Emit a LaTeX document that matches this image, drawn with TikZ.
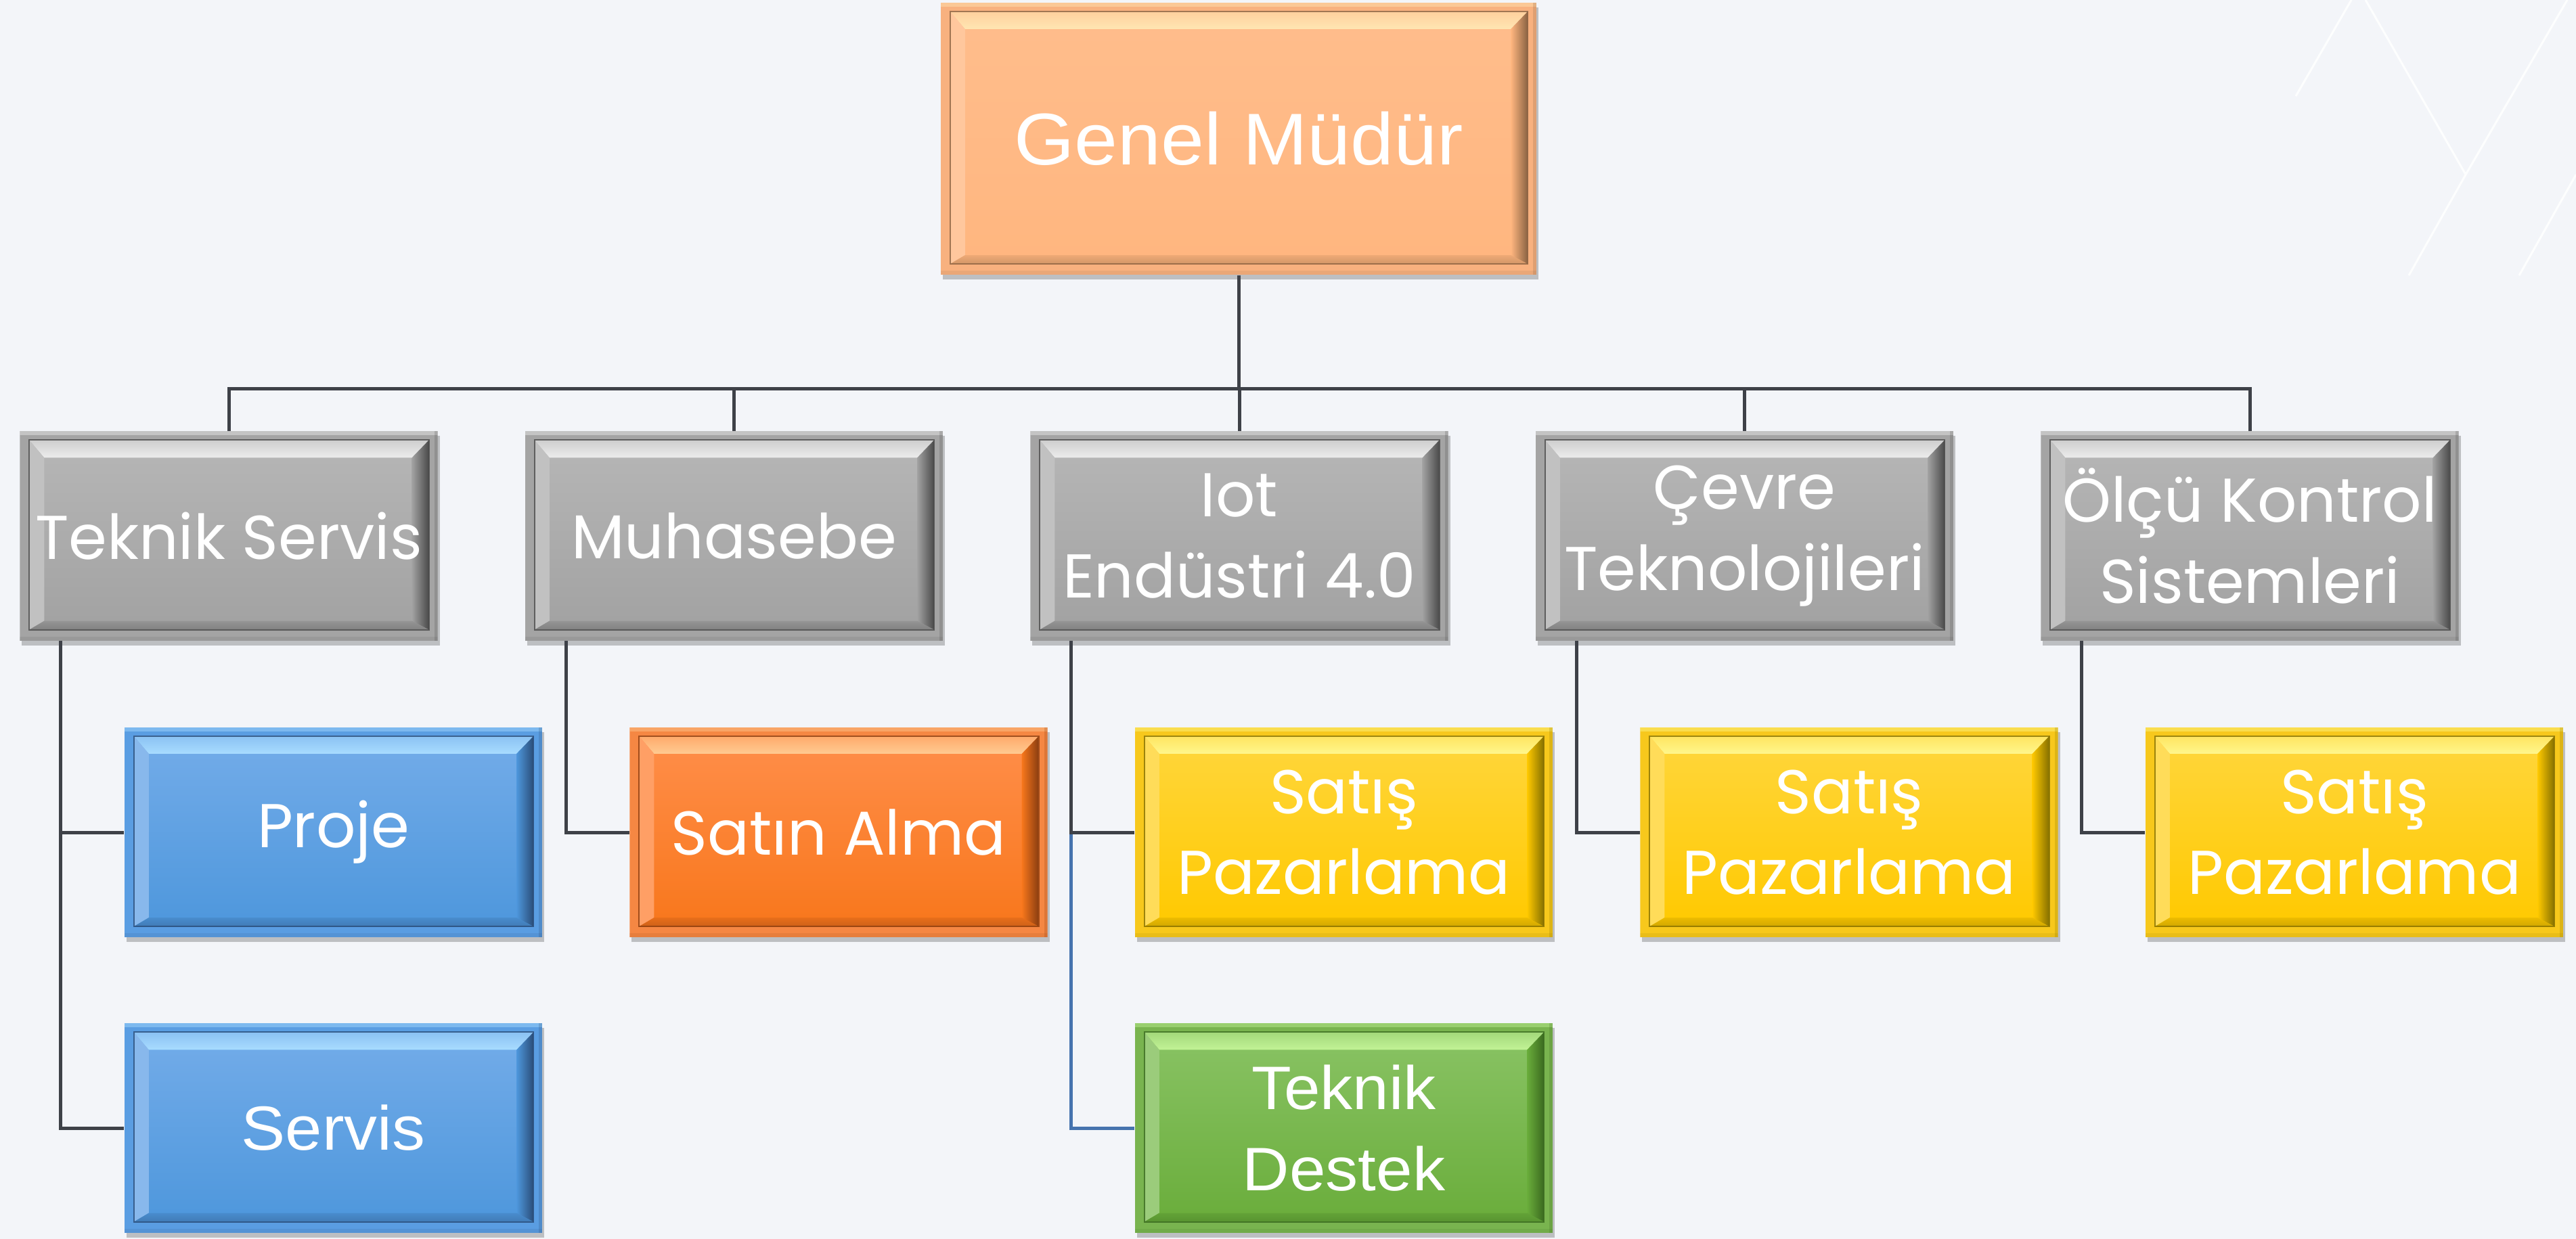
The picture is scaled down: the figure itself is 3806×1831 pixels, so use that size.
\documentclass[tikz,border=0pt]{standalone}
\usepackage{fontspec}
\usetikzlibrary{shadows}
\newfontfamily\poppins{Poppins}
\newfontfamily\arialf{Liberation Sans}[FakeStretch=1.06]

\definecolor{bgcol}{HTML}{F3F5F9}
\definecolor{conncol}{HTML}{3E4148}
\definecolor{connblue}{HTML}{4673AE}
% gray
\definecolor{graytop}{HTML}{B6B6B6}\definecolor{graybot}{HTML}{A2A2A2}
\definecolor{grayframe}{HTML}{A4A4A4}\definecolor{graylight}{HTML}{ECECEC}\definecolor{graydark}{HTML}{4A4A4A}
% peach
\definecolor{peachtop}{HTML}{FFBD8C}\definecolor{peachbot}{HTML}{FFB67F}
\definecolor{peachframe}{HTML}{F8B17F}\definecolor{peachlight}{HTML}{FFE6B2}\definecolor{peachdark}{HTML}{8A6242}
% blue
\definecolor{bluetop}{HTML}{73ACE9}\definecolor{bluebot}{HTML}{4E97DC}
\definecolor{blueframe}{HTML}{5A9DE2}\definecolor{bluelight}{HTML}{A8DCFF}\definecolor{bluedark}{HTML}{2A4C78}
% orange
\definecolor{orangetop}{HTML}{FF8E4A}\definecolor{orangebot}{HTML}{F8771C}
\definecolor{orangeframe}{HTML}{F58743}\definecolor{orangelight}{HTML}{FFCB92}\definecolor{orangedark}{HTML}{8A3D10}
% yellow
\definecolor{yellowtop}{HTML}{FFD63C}\definecolor{yellowbot}{HTML}{FFC900}
\definecolor{yellowframe}{HTML}{F7C81C}\definecolor{yellowlight}{HTML}{FFF78C}\definecolor{yellowdark}{HTML}{857000}
% green
\definecolor{greentop}{HTML}{89C364}\definecolor{greenbot}{HTML}{6AAD3B}
\definecolor{greenframe}{HTML}{79B44F}\definecolor{greenlight}{HTML}{C2F296}\definecolor{greendark}{HTML}{3A6A1F}

\newcommand\bevpic[1]{%
  \path (path picture bounding box.north west) coordinate (pNW)
        (path picture bounding box.south east) coordinate (pSE);
  \fill[#1frame] (pNW) rectangle (pSE);
  \fill[#1light, opacity=.45] (pNW) rectangle ([yshift=-0.06cm]pSE |- pNW);
  \fill[#1dark, opacity=.22] ([xshift=-0.05cm]pSE |- pNW) rectangle (pSE);
  \fill[#1dark, opacity=.12] ([yshift=0.06cm]pNW |- pSE) rectangle (pSE);
  \coordinate (iNW) at ([shift={(0.14cm,-0.13cm)}]pNW);
  \coordinate (iSE) at ([shift={(-0.13cm,0.16cm)}]pSE);
  \coordinate (iNE) at (iSE |- iNW);
  \coordinate (iSW) at (iNW |- iSE);
  \coordinate (fNW) at ([shift={(0.22cm,-0.26cm)}]iNW);
  \coordinate (fSE) at ([shift={(-0.25cm,0.13cm)}]iSE);
  \coordinate (fNE) at (fSE |- fNW);
  \coordinate (fSW) at (fNW |- fSE);
  \shade[top color=#1top, bottom color=#1bot] (iNW) rectangle (iSE);
  \shade[top color=#1light!45!#1top, bottom color=#1light] (iNW) -- (iNE) -- (fNE) -- (fNW) -- cycle;
  \fill[#1top!85!white] (iNW) -- (fNW) -- (fSW) -- (iSW) -- cycle;
  \shade[left color=#1bot, right color=#1dark] (iNE) -- (fNE) -- (fSE) -- (iSE) -- cycle;
  \shade[top color=#1bot!85!#1dark, bottom color=#1bot!62!#1dark] (iSW) -- (fSW) -- (fSE) -- (iSE) -- cycle;
  \draw[#1dark, line width=0.6pt, opacity=.8] (iNW) rectangle (iSE);
}

\tikzset{
  box/.style={rectangle, minimum width=6.17cm, minimum height=3.09cm, inner sep=0pt,
    text=white, align=center, font=\poppins\fontsize{26}{34}\selectfont,
    drop shadow={shadow xshift=0.03cm, shadow yshift=-0.07cm, opacity=0.22, fill=black},
    path picture={\bevpic{#1}}},
  arialtxt/.style={font=\arialf\fontsize{25.8}{34}\selectfont},
  conn/.style={draw=conncol, line width=0.05cm},
  connb/.style={draw=connblue, line width=0.05cm},
  deco/.style={draw=white, line width=0.03cm, opacity=0.9}
}

\begin{document}
\begin{tikzpicture}[x=0.01cm, y=-0.01cm]
\useasboundingbox (0,0) rectangle (3806,1831);
\fill[bgcol] (0,0) rectangle (3806,1831);

% background decoration
\draw[deco] (3392,142) -- (3474,0);
\draw[deco] (3495,0) -- (3643,258) -- (3793,0);
\draw[deco] (3643,258) -- (3559,407);
\draw[deco] (3806,258) -- (3722,407);

% level 1
\node[box=peach, minimum width=8.80cm, minimum height=4.02cm,
      font=\arialf\fontsize{30.8}{36}\selectfont] (gm) at (1830,205) {Genel Müdür};

% level 2
\node[box=gray] (ts)  at (338,792)    {Teknik Servis};
\node[box=gray] (mu)  at (1084.5,792) {Muhasebe};
\node[box=gray] (iot) at (1831,792)   {Iot\\Endüstri 4.0};
\node[box=gray] (cv)  at (2577.5,792) {Çevre\\Teknolojileri};
\node[box=gray] (ol)  at (3324,792)   {Ölçü Kontrol\\Sistemleri};

% level 3
\node[box=blue, minimum height=3.10cm]   (pr)  at (492.5,1230)  {Proje};
\node[box=orange, minimum height=3.10cm] (sa)  at (1239,1230)   {Satın Alma};
\node[box=yellow, minimum height=3.10cm] (sp1) at (1985.5,1230) {Satış\\Pazarlama};
\node[box=yellow, minimum height=3.10cm] (sp2) at (2732,1230)   {Satış\\Pazarlama};
\node[box=yellow, minimum height=3.10cm] (sp3) at (3478.5,1230) {Satış\\Pazarlama};

% level 4
\node[box=blue, font=\arialf\fontsize{26.2}{34}\selectfont] (sv) at (492.5,1667) {Servis};
\node[box=green, arialtxt] (td) at (1985.5,1667) {Teknik\\Destek};

% connectors
\foreach \c in {ts,mu,iot,cv,ol}
  \draw[conn] (gm.south) -- ++(0,168) -| (\c.north);
\draw[conn] ([xshift=0.61cm]ts.south west) |- (pr.west);
\draw[conn] ([xshift=0.61cm]ts.south west) |- (sv.west);
\draw[conn] ([xshift=0.61cm]mu.south west) |- (sa.west);
\draw[connb] ([xshift=0.61cm]iot.south west) |- (td.west);
\draw[conn] ([xshift=0.61cm]iot.south west) |- (sp1.west);
\draw[conn] ([xshift=0.61cm]cv.south west) |- (sp2.west);
\draw[conn] ([xshift=0.61cm]ol.south west) |- (sp3.west);
\end{tikzpicture}
\end{document}
